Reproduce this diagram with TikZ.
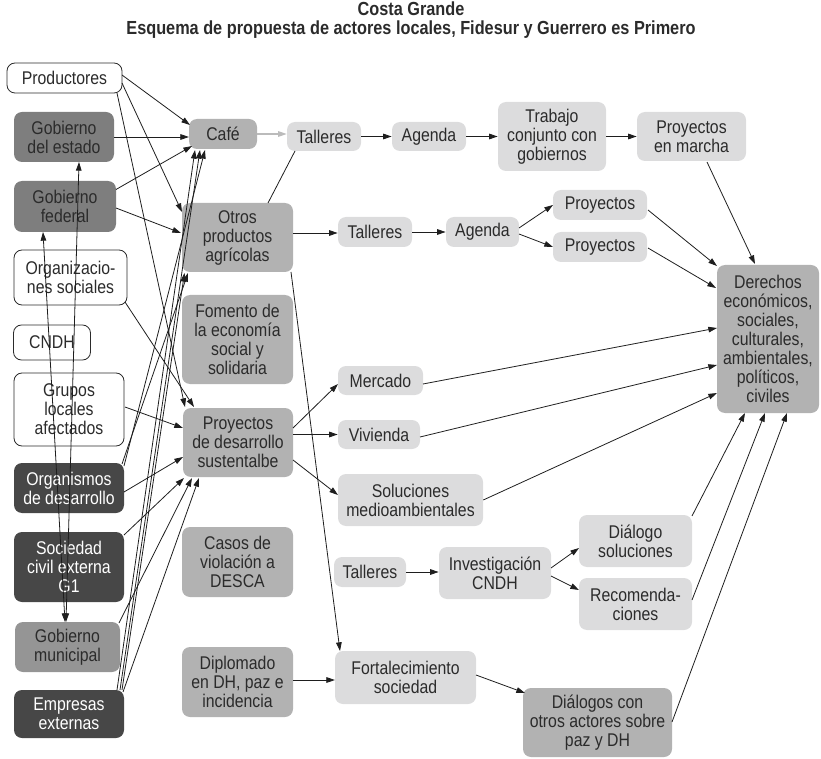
\documentclass[tikz,border=0pt]{standalone}
\usepackage{fontspec}
\setmainfont{Liberation Sans}[FakeStretch=0.86]
\usetikzlibrary{arrows.meta,calc}
\definecolor{txt}{HTML}{2B2B2B}
\definecolor{dk}{HTML}{474747}
\definecolor{gov}{HTML}{7E7E7E}
\definecolor{mun}{HTML}{959595}
\definecolor{mid}{HTML}{B2B2B2}
\definecolor{lt}{HTML}{DCDCDD}
\definecolor{ln}{HTML}{1E1E1E}
\definecolor{lnl}{HTML}{BBBBBB}
\begin{document}
\begin{tikzpicture}[x=0.75pt,y=-0.75pt,
 box/.style={rounded corners=6pt, align=center, inner sep=0pt, text=txt,
   font=\fontsize{13.8}{14.25}\selectfont},
 wbox/.style={box, draw=txt, fill=white, line width=0.6pt},
 gbox/.style={box, fill=gov},
 mbox/.style={box, fill=mun},
 dbox/.style={box, fill=dk, text=white},
 cbox/.style={box, fill=mid},
 lbox/.style={box, fill=lt},
 sz/.style 2 args={minimum width=#1*0.75pt, minimum height=#2*0.75pt},
 arr/.style={-{Triangle[length=6.5pt,width=4.2pt]}, line width=0.6pt, draw=ln},
 barr/.style={{Triangle[length=6.5pt,width=4.2pt]}-{Triangle[length=6.5pt,width=4.2pt]}, line width=0.6pt, draw=ln},
 plain/.style={line width=0.6pt, draw=ln},
 garr/.style={-{Triangle[length=6.5pt,width=4.2pt]}, line width=0.8pt, draw=lnl},
 ttl/.style={font=\bfseries\fontsize{14.2}{14}\selectfont, text=txt, inner sep=0pt, anchor=base}
]
\useasboundingbox (0,0) rectangle (821,759);

% title
\node[ttl] (t1) at (411,16) {Costa Grande};
\node[ttl] (t2) at (411,35) {Esquema de propuesta de actores locales, Fidesur y Guerrero es Primero};

% left column
\node[wbox,sz={115}{30}] (prod) at (64.5,78) {Productores};
\node[gbox,sz={100}{50}] (gest) at (64,137) {Gobierno\\del estado};
\node[gbox,sz={102}{51}] (gfed) at (65,206.5) {Gobierno\\federal};
\node[wbox,sz={113}{55}] (orgs) at (70.5,277.5) {Organizacio-\\nes sociales};
\node[wbox,sz={77}{35}] (cndh) at (52,342.5) {CNDH};
\node[wbox,sz={110}{73}] (grup) at (69,409.5) {Grupos\\locales\\afectados};
\node[dbox,sz={110}{50}] (orgd) at (69,488) {Organismos\\de desarrollo};
\node[dbox,sz={110}{70}] (soc) at (69,567) {Sociedad\\civil externa\\G1};
\node[mbox,sz={105}{50}] (gmun) at (67.5,647) {Gobierno\\municipal};
\node[dbox,sz={110}{48}] (emp) at (69,714) {Empresas\\externas};

% second column
\node[cbox,sz={68}{30}] (cafe) at (223,134) {Café};
\node[cbox,sz={111}{69}] (otros) at (237.5,237.5) {Otros\\productos\\agrícolas};
\node[cbox,sz={111}{89}] (fom) at (237.5,339.5) {Fomento de\\la economía\\social y\\solidaria};
\node[cbox,sz={110}{69}] (proyd) at (238,442.5) {Proyectos\\de desarrollo\\sustentalbe};
\node[cbox,sz={111}{70}] (casos) at (237.5,562) {Casos de\\violación a\\DESCA};
\node[cbox,sz={111}{70}] (dipl) at (237.5,682) {Diplomado\\en DH, paz e\\incidencia};

% right part
\node[lbox,sz={74}{29}] (tal1) at (324,136.5) {Talleres};
\node[lbox,sz={74}{29}] (age1) at (429,136.5) {Agenda};
\node[lbox,sz={108}{69}] (trab) at (552,136.5) {Trabajo\\conjunto con\\gobiernos};
\node[lbox,sz={109}{49}] (pmar) at (691.5,136.5) {Proyectos\\en marcha};
\node[lbox,sz={74}{30}] (tal2) at (375,232) {Talleres};
\node[lbox,sz={73}{30}] (age2) at (482.5,232) {Agenda};
\node[lbox,sz={94}{30}] (proy1) at (600,205) {Proyectos};
\node[lbox,sz={94}{30}] (proy2) at (600,247) {Proyectos};
\node[cbox,sz={102}{148}] (der) at (768,339) {Derechos\\económicos,\\sociales,\\culturales,\\ambientales,\\políticos,\\civiles};
\node[lbox,sz={85}{29}] (merc) at (380.5,380.5) {Mercado};
\node[lbox,sz={82}{29}] (viv) at (379,434.5) {Vivienda};
\node[lbox,sz={145}{52}] (sol) at (410.5,500) {Soluciones\\medioambientales};
\node[lbox,sz={72}{30}] (tal3) at (370,572) {Talleres};
\node[lbox,sz={112}{52}] (inv) at (495,573) {Investigación\\CNDH};
\node[lbox,sz={113}{52}] (dial) at (635.5,541) {Diálogo\\soluciones};
\node[lbox,sz={113}{52}] (rec) at (635.5,604) {Recomenda-\\ciones};
\node[lbox,sz={141}{53}] (fort) at (405.5,677.5) {Fortalecimiento\\sociedad};
\node[cbox,sz={149}{69}] (dialo) at (597.5,722.5) {Diálogos con\\otros actores sobre\\paz y DH};

% edges from left column
\draw[arr] ($(prod.center)+(57.5,-3)$) -- ($(cafe.center)+(-33,-9)$);
\draw[arr] ($(prod.center)+(57.5,5)$) -- ($(otros.center)+(-55.5,-25.5)$);
\draw[arr] ($(prod.center)+(52.5,15)$) -- ($(proyd.center)+(-53,-35.5)$);
\draw[arr] ($(gest.center)+(50,0)$) -- ($(cafe.center)+(-34,3)$);
\draw[arr] ($(gfed.center)+(51,-17)$) -- ($(cafe.center)+(-31,12)$);
\draw[arr] ($(gfed.center)+(51,1.5)$) -- ($(otros.center)+(-56.5,-4.5)$);
\draw[arr] ($(orgs.center)+(54.5,24.5)$) -- ($(proyd.center)+(-44,-35.5)$);
\draw[barr] ($(gmun.center)+(-2.5,-25)$) -- ($(gfed.center)+(-22,25.5)$);
\draw[barr] ($(gmun.center)+(-1.5,-25)$) -- ($(gest.center)+(15,25)$);
\draw[arr] ($(grup.center)+(56,-2.5)$) -- ($(proyd.center)+(-55,-14.5)$);
\draw[arr] ($(orgd.center)+(55,4)$) -- ($(proyd.center)+(-55,14.5)$);
\draw[arr] ($(soc.center)+(55,-32)$) -- ($(proyd.center)+(-54,35.5)$);
\draw[arr] ($(gmun.center)+(51.5,-24)$) -- ($(proyd.center)+(-46,35.5)$);
\draw[arr] ($(emp.center)+(54,-22)$) -- ($(proyd.center)+(-39,35.5)$);
\draw[arr] ($(emp.center)+(48,-24)$) -- ($(cafe.center)+(-28,16)$);
\draw[arr] ($(emp.center)+(51,-24)$) -- ($(cafe.center)+(-23,16)$);
\draw[arr] ($(emp.center)+(53,-24)$) -- ($(otros.center)+(-53,35.5)$);
\draw[arr] ($(orgd.center)+(53,-24)$) -- ($(otros.center)+(-49.5,35.5)$);
\draw[arr] ($(orgd.center)+(55,-22)$) -- ($(cafe.center)+(-18,16)$);

% top chain
\draw[garr] (cafe.east) -- ($(tal1.west)+(0,-2.5)$);
\draw[arr] (tal1.east) -- (age1.west);
\draw[arr] (age1.east) -- (trab.west);
\draw[arr] (trab.east) -- (pmar.west);
\draw[arr] ($(pmar.center)+(15.5,25.5)$) -- ($(der.center)+(-13,-75)$);
\draw[plain] ($(otros.center)+(30.5,-34.5)$) -- ($(tal1.center)+(-29,14.5)$);

% second chain
\draw[arr] ($(otros.center)+(55.5,-4.5)$) -- ($(tal2.west)+(0,1)$);
\draw[arr] (tal2.east) -- (age2.west);
\draw[arr] ($(age2.center)+(36.5,-4)$) -- ($(proy1.center)+(-47,0)$);
\draw[arr] ($(age2.center)+(36.5,2)$) -- ($(proy2.center)+(-47,0)$);
\draw[arr] ($(proy1.center)+(48,5)$) -- ($(der.center)+(-51,-73)$);
\draw[arr] ($(proy2.center)+(48,1)$) -- ($(der.center)+(-52,-51)$);
\draw[arr] ($(otros.center)+(53.5,34.5)$) -- ($(fort.center)+(-65.5,-26.5)$);

% proyectos de desarrollo
\draw[arr] ($(proyd.center)+(55,-14.5)$) -- ($(merc.center)+(-42.5,3.5)$);
\draw[arr] ($(proyd.center)+(55,-8)$) -- (viv.west);
\draw[arr] ($(proyd.center)+(55,17.5)$) -- ($(sol.center)+(-72.5,-5)$);
\draw[arr] ($(merc.center)+(42.5,3.5)$) -- ($(der.center)+(-51,-11)$);
\draw[arr] ($(viv.center)+(41,2.5)$) -- ($(der.center)+(-51,26)$);
\draw[arr] (sol.east) -- ($(der.center)+(-51,54)$);

% CNDH chain
\draw[arr] (tal3.east) -- ($(inv.west)+(0,-1)$);
\draw[arr] ($(inv.center)+(56,-5)$) -- ($(dial.center)+(-56.5,7)$);
\draw[arr] ($(inv.center)+(56,3)$) -- ($(rec.center)+(-56.5,-14)$);
\draw[arr] ($(dial.center)+(56.5,-25)$) -- ($(der.center)+(-23,74)$);
\draw[arr] ($(rec.center)+(56.5,-4)$) -- ($(der.center)+(-3,74)$);
\draw[arr] ($(dialo.center)+(74.5,-0.5)$) -- ($(der.center)+(19,74)$);

% bottom chain
\draw[arr] ($(dipl.center)+(55.5,-2)$) -- ($(fort.center)+(-70.5,2.5)$);
\draw[arr] ($(fort.center)+(70.5,-2.5)$) -- ($(dialo.center)+(-72.5,-29.5)$);
\end{tikzpicture}
\end{document}
